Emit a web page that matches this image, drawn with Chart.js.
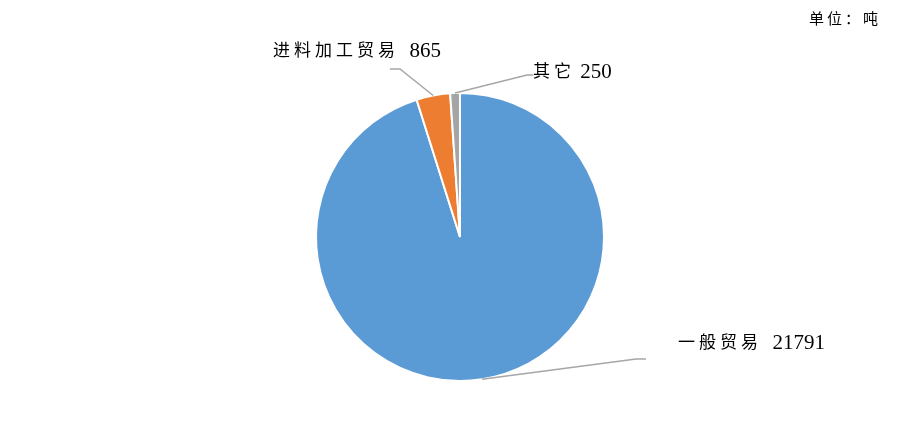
<!DOCTYPE html>
<html>
<head>
<meta charset="utf-8">
<script src="https://cdn.jsdelivr.net/npm/chart.js@4/dist/chart.umd.min.js"></script>
<style>
    html, body { margin: 0; padding: 0; background: #fff; }
    #wrap { width: 920px; height: 429px; position: relative; }
</style>
</head>
<body>
<div id="wrap"><canvas id="tradePie"></canvas></div>
<script>
var categories = ['一般贸易', '进料加工贸易', '其它'];
var values = [21791, 865, 250];
var sliceColors = ['#5B9BD5', '#ED7D31', '#A5A5A5'];
var unitLabel = '单位：吨';

// where each leader line bends / ends and where its text sits (canvas px)
var labelSpots = [
    { elbow: [636, 359], end: [646, 359], text: [678, 342], gap: '  ' },
    { elbow: [400, 69], end: [390, 69], text: [273, 50], gap: '  ' },
    { elbow: [527, 75], end: [533, 75], text: [533, 71], gap: ' ' }
];

var cjkFont = '17px "Noto Sans CJK SC"';
var numFont = '21px "Liberation Serif", "Times New Roman", serif';

var leaderLabels = {
    id: 'leaderLabels',
    afterDraw: function (chart) {
        var ctx = chart.ctx;
        var arcs = chart.getDatasetMeta(0).data;
        ctx.save();
        arcs.forEach(function (arc, i) {
            var spot = labelSpots[i];
            var mid = (arc.startAngle + arc.endAngle) / 2;
            var sx = arc.x + Math.cos(mid) * arc.outerRadius;
            var sy = arc.y + Math.sin(mid) * arc.outerRadius;

            ctx.strokeStyle = '#A6A6A6';
            ctx.lineWidth = 1.5;
            ctx.beginPath();
            ctx.moveTo(sx, sy);
            ctx.lineTo(spot.elbow[0], spot.elbow[1]);
            ctx.lineTo(spot.end[0], spot.end[1]);
            ctx.stroke();

            ctx.fillStyle = '#000';
            ctx.textBaseline = 'middle';
            ctx.textAlign = 'left';
            ctx.font = cjkFont;
            ctx.letterSpacing = '4px';
            var name = categories[i];
            ctx.fillText(name, spot.text[0], spot.text[1]);
            var w = ctx.measureText(name).width;
            ctx.letterSpacing = '0px';
            ctx.font = numFont;
            ctx.fillText(spot.gap + values[i], spot.text[0] + w, spot.text[1] + 1);
        });

        ctx.font = '15px "Noto Sans CJK SC"';
        ctx.letterSpacing = '3px';
        ctx.textAlign = 'left';
        ctx.fillText(unitLabel, 809, 18);
        ctx.restore();
    }
};

new Chart(document.getElementById('tradePie'), {
    type: 'pie',
    data: {
        labels: categories,
        datasets: [{
            data: values,
            backgroundColor: sliceColors,
            borderColor: '#ffffff',
            borderWidth: 2
        }]
    },
    options: {
        responsive: true,
        maintainAspectRatio: false,
        animation: false,
        layout: { padding: { top: 92, bottom: 47, left: 0, right: 0 } },
        plugins: {
            legend: { display: false },
            tooltip: { enabled: false }
        }
    },
    plugins: [leaderLabels]
});
</script>
</body>
</html>
